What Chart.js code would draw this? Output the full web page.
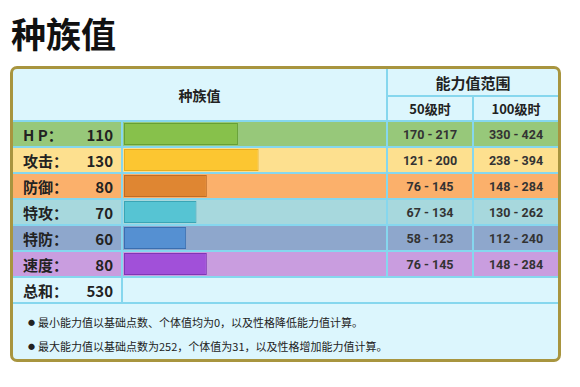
<!DOCTYPE html>
<html>
<head>
<meta charset="utf-8">
<script src="https://cdn.jsdelivr.net/npm/chart.js"></script>
<style>
  body { margin: 0; width: 580px; height: 387px; background: #fff; position: relative; overflow: hidden;
         font-family: "Noto Sans CJK SC", "Noto Sans", sans-serif; color: #222; }
  .abs { position: absolute; box-sizing: border-box; }
  .title { left: 11px; top: 8px; font-size: 35px; font-weight: bold; line-height: 50px; color: #111; }
  .box { left: 10px; top: 66px; width: 551px; height: 296px; border: 3px solid #a8953f;
         border-radius: 7px; background: #dcf6fd; overflow: hidden; }
  .line { background: #86d7ee; }
  .cell { display: flex; align-items: center; justify-content: center; font-weight: bold; }
  .hdr { font-size: 14px; color: #222; }
  .lab { font-size: 15px; justify-content: space-between; padding: 0 8px 0 10px; }
  .rng { font-size: 12.5px; color: #333; font-family: Roboto, "Noto Sans CJK SC", sans-serif; }
  .note { font-size: 11px; font-weight: normal; color: #222; line-height: 16px; white-space: nowrap; }
  .dot { font-size: 7px; vertical-align: 2px; margin-right: 3px; }
  #chart { position: absolute; left: 123px; top: 121px; }
</style>
</head>
<body>
<div class="abs title">种族值</div>
<div class="abs box"></div>
<div id="table"></div>
<canvas id="chart" width="263" height="156"></canvas>
<script>
const statLabels = ['H P：', '攻击：', '防御：', '特攻：', '特防：', '速度：'];
const baseStats = [110, 130, 80, 70, 60, 80];
const range50 = ['170 - 217', '121 - 200', '76 - 145', '67 - 134', '58 - 123', '76 - 145'];
const range100 = ['330 - 424', '238 - 394', '148 - 284', '130 - 262', '112 - 240', '148 - 284'];
const totalLabel = '总和：';
const totalValue = 530;
const notes = [
    '最小能力值以基础点数、个体值均为0，以及性格降低能力值计算。',
    '最大能力值以基础点数为252，个体值为31，以及性格增加能力值计算。'
];

const rowColors = ['#97c87a', '#fde08f', '#fbb06b', '#a7d8dd', '#8ea7cc', '#c99ddf'];
const barColors = ['#87c14b', '#fcc631', '#df8632', '#56c4d3', '#5590d2', '#a150d9'];
const barBorders = ['#66a035', '#e6ad22', '#bf6d26', '#3aa5b5', '#3a6eb0', '#8037b5'];

const table = document.getElementById('table');
function box(x, y, w, h, cls, text, bg) {
    const d = document.createElement('div');
    d.className = 'abs ' + cls;
    d.style.left = x + 'px';
    d.style.top = y + 'px';
    if (w) d.style.width = w + 'px';
    d.style.height = h + 'px';
    if (bg) d.style.background = bg;
    if (text !== undefined) d.innerHTML = text;
    table.appendChild(d);
    return d;
}

// header
box(13, 69, 373, 51, 'cell hdr', '种族值');
box(388, 69, 170, 26, 'cell hdr', '能力值范围').style.fontSize = '15px';
box(388, 97, 84, 23, 'cell hdr', '50级时').style.fontSize = '13px';
box(474, 97, 84, 23, 'cell hdr', '100级时').style.fontSize = '13px';

// rows
statLabels.forEach((lab, i) => {
    const y = 122 + 26 * i;
    const bg = rowColors[i];
    box(13, y, 108, 24, 'cell lab', '<span>' + lab + '</span><span>' + baseStats[i] + '</span>', bg);
    box(123, y, 263, 24, '', undefined, bg);
    box(388, y, 84, 24, 'cell rng', range50[i], bg);
    box(474, y, 84, 24, 'cell rng', range100[i], bg);
});
const ty = 122 + 26 * 6;
box(13, ty, 108, 24, 'cell lab', '<span>' + totalLabel + '</span><span>' + totalValue + '</span>');

// grid lines
box(13, 120, 545, 2, 'line');
for (let i = 0; i < 7; i++) box(13, 146 + 26 * i, 545, 2, 'line');
box(386, 69, 2, 208, 'line');
box(388, 95, 170, 2, 'line');
box(472, 97, 2, 180, 'line');
box(121, 122, 2, 180, 'line');

// notes
notes.forEach((t, i) => {
    box(28, 314 + 24 * i, 0, 16, 'note', '<span class="dot">●</span>' + t);
});

const ctx = document.getElementById('chart').getContext('2d');
new Chart(ctx, {
    type: 'bar',
    data: {
        labels: statLabels,
        datasets: [{
            data: baseStats,
            backgroundColor: barColors,
            borderColor: barBorders,
            borderWidth: 1,
            borderSkipped: false,
            categoryPercentage: 1,
            barPercentage: 22 / 26
        }]
    },
    options: {
        indexAxis: 'y',
        responsive: false,
        animation: false,
        layout: { padding: { left: 1, right: 0, top: 0, bottom: 0 } },
        plugins: { legend: { display: false }, tooltip: { enabled: false } },
        scales: {
            x: { display: false, min: 0, max: 253 },
            y: { display: false }
        }
    }
});
</script>
</body>
</html>
